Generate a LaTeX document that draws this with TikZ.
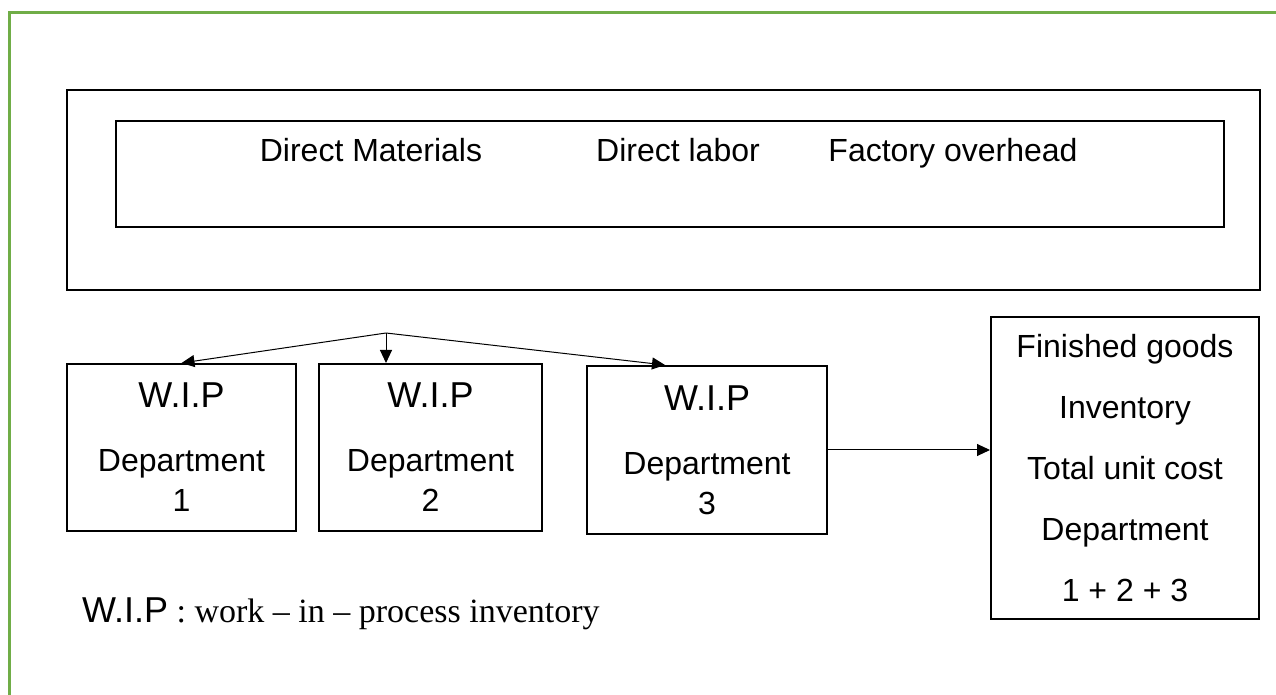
\documentclass[tikz,border=0pt]{standalone}
\usepackage{fontspec}
\setmainfont{Liberation Sans}
\newfontfamily\timesfont{Liberation Serif}
\usetikzlibrary{arrows.meta,positioning,calc}
\definecolor{framegreen}{RGB}{112,173,71}

\tikzset{
    box/.style={draw, line width=1pt, inner sep=0pt, align=center, font=\fontsize{16}{20}\selectfont},
    link/.style={line width=0.5pt, -{Triangle[length=6.5pt,width=6pt]}},
    wip/.style={font=\fontsize{18}{20}\selectfont}
}

\begin{document}
\begin{tikzpicture}[x=0.5pt,y=-0.5pt]
    \useasboundingbox (0,0) rectangle (1276,695);
    \draw[framegreen, line width=1.5pt] (9,695) -- (9,13) -- (1276,13);
    % cost elements
    \node[box, minimum width=596.5pt, minimum height=100pt] (outer) at (663.5,190) {};
    \node[box, minimum width=554pt, minimum height=53pt] (inner) at (670,174) {};
    \node[anchor=base, font=\fontsize{16}{20}\selectfont] (dm) at (371,162) {Direct Materials};
    \node[anchor=base, font=\fontsize{16}{20}\selectfont] (dl) at (678,162) {Direct labor};
    \node[anchor=base, font=\fontsize{16}{20}\selectfont] (fo) at (953,162) {Factory overhead};
    % departments
    \node[box, minimum width=114.5pt, minimum height=83.5pt] (w1) at (181.5,447.5)
        {{\fontsize{18}{20}\selectfont W.I.P}\\[12pt] Department\\ 1};
    \node[box, minimum width=111.5pt, minimum height=83.5pt] (w2) at (430.5,447.5)
        {{\fontsize{18}{20}\selectfont W.I.P}\\[12pt] Department\\ 2};
    \node[box, minimum width=120pt, minimum height=84pt] (w3) at (707,450)
        {{\fontsize{18}{20}\selectfont W.I.P}\\[12pt] Department\\ 3};
    \node[box, minimum width=134pt, minimum height=151pt, font=\fontsize{16}{30.5}\selectfont] (fg) at (1125,468)
        {Finished goods\\ Inventory\\ Total unit cost\\ Department\\ 1 + 2 + 3};
    \coordinate (split) at (386,333);
    \draw[link] (split) -- (w1.north);
    \draw[link] (split) -- (split |- w2.north);
    \draw[link] (split) -- ($(w3.north)+(-42,0)$);
    \draw[link] (w3) -- (w3 -| fg.west);
    \node[anchor=base west] (note) at (75,622)
        {{\fontsize{18}{22}\selectfont W.I.P}{\timesfont\fontsize{17}{22}\selectfont\ : work – in – process inventory}};
\end{tikzpicture}
\end{document}
